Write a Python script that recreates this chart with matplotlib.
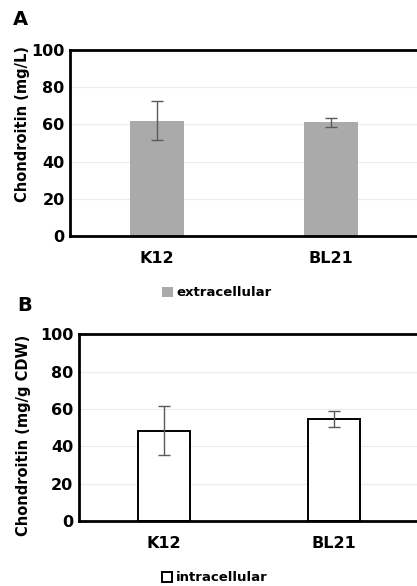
import matplotlib.pyplot as plt

plt.rcParams['font.family'] = ['DejaVu Sans']
plt.rcParams['font.weight'] = 'bold'

strains = ["K12", "BL21"]
extra_vals = [62.0, 61.0]
extra_err = [10.3, 2.6]
intra_vals = [48.4, 54.6]
intra_err = [13.0, 4.5]
yticks = [0, 20, 40, 60, 80, 100]

fig = plt.figure(figsize=(4.17, 5.86), dpi=100)


def panel(rect, vals, errs, face, edge, ylabel, label_xy, legend_label, legend_xy):
    ax = fig.add_axes(rect)
    x = range(len(strains))
    bars = ax.bar(x, vals, width=0.31, color=face, edgecolor=edge,
                  linewidth=1.4 if edge != face else 0, label=legend_label, zorder=2)
    ax.errorbar(x, vals, yerr=errs, fmt="none", ecolor="#5a5a5a",
                elinewidth=1.0, capsize=4, capthick=1.0, zorder=3)
    ax.set_xlim(-0.5, 1.5)
    ax.set_ylim(0, 100)
    ax.set_yticks(yticks)
    ax.set_xticks(list(x))
    ax.set_xticklabels(strains)
    ax.tick_params(axis="both", length=0, labelsize=11.5)
    ax.tick_params(axis="x", pad=11)
    ax.tick_params(axis="y", pad=4)
    ax.grid(axis="y", color="#ececec", linewidth=0.8, zorder=0)
    for s in ["left", "bottom", "top"]:
        ax.spines[s].set_linewidth(2.0)
    ax.spines["right"].set_color("#888888")
    ax.spines["right"].set_linewidth(0.8)
    ax.set_ylabel(ylabel, fontsize=10.5, fontweight="bold")
    ax.yaxis.set_label_coords(*label_xy)
    fig.legend(handles=[bars], labels=[legend_label], loc="center",
               bbox_to_anchor=legend_xy, frameon=False, fontsize=9.5,
               handlelength=0.8, handleheight=0.8, handletextpad=0.3)
    return ax


panel([0.168, 0.597, 0.835, 0.318], extra_vals, extra_err, "#aaaaaa", "#aaaaaa",
      "Chondroitin (mg/L)", (-0.115, 0.6), "extracellular", (0.52, 0.5))
panel([0.189, 0.111, 0.816, 0.3185], intra_vals, intra_err, "white", "black",
      "Chondroitin (mg/g CDW)", (-0.14, 0.46), "intracellular", (0.515, 0.0137))

fig.text(0.048, 0.966, "A", fontsize=14, fontweight="bold", va="center", ha="center")
fig.text(0.06, 0.479, "B", fontsize=14, fontweight="bold", va="center", ha="center")

fig.savefig("out.png", dpi=100)
